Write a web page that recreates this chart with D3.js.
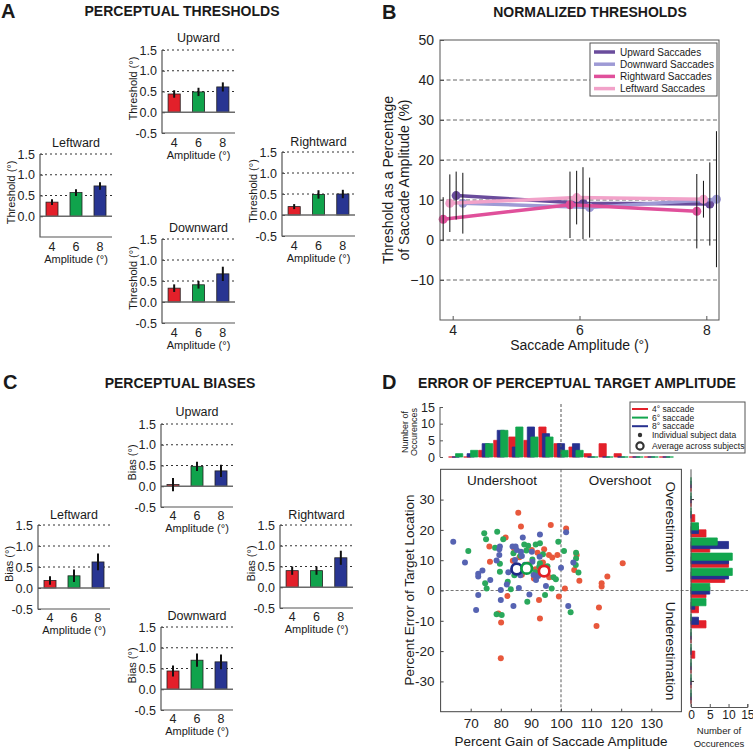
<!DOCTYPE html>
<html><head><meta charset="utf-8">
<script src="https://cdn.jsdelivr.net/npm/d3@7"></script>
<style>
body{margin:0;background:#fff;}
svg{font-family:"Liberation Sans", Arial, sans-serif;}
</style></head><body>
<svg id="c" width="753" height="749"></svg>
<script>
// ---------------- DATA ----------------
const amplitudes = ["4", "6", "8"];
const barTicks = [-0.5, 0, 0.5, 1.0, 1.5];
// Panel A: perceptual thresholds (deg)
const thrUpward = [0.44, 0.49, 0.61];
const thrUpwardErr = [0.09, 0.10, 0.11];
const thrLeftward = [0.34, 0.57, 0.73];
const thrLeftwardErr = [0.07, 0.08, 0.09];
const thrRightward = [0.20, 0.49, 0.50];
const thrRightwardErr = [0.06, 0.10, 0.10];
const thrDownward = [0.33, 0.41, 0.67];
const thrDownwardErr = [0.09, 0.09, 0.17];
// Panel C: perceptual biases (deg)
const biasUpward = [0.04, 0.48, 0.37];
const biasUpwardErr = [0.16, 0.11, 0.15];
const biasLeftward = [0.18, 0.29, 0.62];
const biasLeftwardErr = [0.10, 0.15, 0.20];
const biasRightward = [0.40, 0.40, 0.71];
const biasRightwardErr = [0.10, 0.10, 0.17];
const biasDownward = [0.44, 0.70, 0.66];
const biasDownwardErr = [0.13, 0.16, 0.18];
// Panel B: normalized thresholds (%)
const normAmplitudes = [4, 6, 8];
const normNames = ["Upward Saccades", "Downward Saccades", "Rightward Saccades", "Leftward Saccades"];
const normUpward = [11.1, 9.2, 9.0];
const normUpwardErr = [6.0, 9.0, 10.4];
const normDownward = [9.2, 8.1, 10.2];
const normDownwardErr = [7.6, 7.5, 17.0];
const normRightward = [5.2, 8.8, 7.2];
const normRightwardErr = [5.5, 8.3, 9.3];
const normLeftward = [9.2, 10.6, 10.2];
const normLeftwardErr = [7.2, 6.7, 4.6];
const normTicks = [-10, 0, 10, 20, 30, 40, 50];
// Panel D
const sacLabels = ["4° saccade", "6° saccade", "8° saccade"];
const gainBins = [65, 70, 75, 80, 85, 90, 95, 100, 105, 110, 115, 120, 125, 130, 135];
const gainCount4 = [0, 0, 2, 5, 6, 5, 9, 4, 3, 1, 4, 1, 0, 0, 0];
const gainCount6 = [1, 2, 4, 8, 9, 6, 6, 2, 2, 0, 0, 0, 0, 0, 0];
const gainCount8 = [0, 1, 4, 8, 3, 9, 7, 4, 4, 0, 0, 0, 0, 0, 0];
const errBins = [35, 30, 25, 20, 15, 10, 5, 0, -5, -10, -15, -20, -25, -30, -35];
const errCount4 = [0, 0, 1, 4, 5, 10, 9, 4, 2, 4, 0, 1, 0, 0, 0];
const errCount6 = [0, 0, 0, 2, 7, 11, 11, 5, 4, 0, 0, 0, 0, 0, 0];
const errCount8 = [0, 0, 0, 2, 10, 10, 10, 5, 1, 2, 0, 0, 0, 0, 0];
const gain4 = [85.8, 86.7, 96.6, 101.7, 81.6, 76.2, 84.4, 90.3, 94.4, 92.2, 96.0, 98.8, 97.1, 105.2, 76.4, 120.5, 91.5, 104.4, 115.4, 96.1, 106.1, 113.5, 113.5, 101.3, 99.3, 82.2, 92.7, 112.6, 93.0, 80.1, 111.8, 80.0, 79.2, 84.0, 86.2, 87.0, 89.2, 91.0, 94.0, 95.3];
const err4 = [25.7, 21.1, 21.6, 20.5, 17.5, 14.5, 13.9, 13.4, 13.6, 12.5, 11.7, 11.7, 10.9, 11.7, 9.5, 9.0, 7.0, 6.8, 4.6, 4.4, 3.2, 2.4, 1.3, 0.7, -2.0, -1.8, -3.1, -5.6, -9.2, -10.6, -11.7, -22.4, -7.6, 9.8, 11.0, 5.2, 8.6, 4.0, 9.2, 5.8];
const gain6 = [74.5, 78.8, 75.1, 80.8, 69.2, 78.1, 84.2, 87.8, 89.1, 91.6, 93.0, 99.1, 101.0, 105.0, 105.0, 79.7, 79.7, 82.3, 74.8, 75.3, 83.3, 92.8, 93.0, 97.5, 98.3, 96.9, 105.8, 104.9, 94.7, 88.8, 78.6, 80.3, 103.2, 86.5, 88.5, 90.5, 91.5, 95.5, 94.0, 84.5];
const err6 = [18.9, 19.4, 16.9, 16.9, 13.0, 14.1, 12.3, 15.2, 14.8, 15.2, 15.6, 16.1, 13.0, 12.5, 10.6, 8.8, 6.2, 2.9, 2.4, 0.7, 0.4, 7.9, 9.0, 4.4, 3.7, 0.7, 5.9, 8.4, -1.5, -3.7, -7.8, -8.1, -7.2, 11.5, 13.2, 10.2, 6.0, 8.0, 12.0, 5.0];
const gain8 = [64.2, 68.1, 72.5, 72.5, 73.9, 78.6, 79.5, 79.5, 79.7, 83.9, 84.9, 87.3, 93.0, 101.7, 86.7, 87.0, 84.7, 92.4, 91.7, 100.0, 104.1, 72.5, 80.0, 80.0, 89.5, 84.2, 71.8, 102.4, 90.3, 92.9, 90.9, 85.3, 82.5, 86.5, 88.0, 90.5, 82.0, 76.5, 86.0, 95.0];
const err8 = [16.1, 9.2, 5.5, 4.6, 6.6, 9.9, 13.6, 11.7, 14.5, 14.5, 14.5, 17.5, 18.5, 19.2, 12.8, 11.4, 10.1, 4.8, 3.5, 7.5, 9.2, -1.5, 0.2, -3.1, -1.3, -5.1, -6.4, -5.1, 12.8, 11.1, 5.1, 13.4, 6.0, 5.0, 8.5, 9.5, 2.0, 3.5, 0.8, 1.5];
const avgGain = [94.4, 88.6, 85.3];
const avgErr = [6.4, 7.3, 7.1];
const gainTicks = [70, 80, 90, 100, 110, 120, 130];
const errTicks = [-30, -20, -10, 0, 10, 20, 30];
const histTicks = [0, 5, 10, 15];

// ---------------- STYLE ----------------
const FONT = "'Liberation Sans', Arial, sans-serif";
const barColors = ["#e3202a", "#10a34c", "#283592"];
const histColors = ["#e3202a", "#12a64e", "#26308f"];
const dotColors = ["#e8583c", "#2aa85c", "#5663b2"];
const ringColors = ["#e31e24", "#0e9e48", "#1f2a88"];
const normColors = ["#6a4c9c", "#9e9ad5", "#e0509b", "#f2a2c9"];

const svg = d3.select("#c");

function txt(x, y, s, o = {}) {
  const t = svg.append("text").attr("x", x).attr("y", y).text(s)
    .attr("font-family", FONT).attr("font-size", o.size || 12)
    .attr("fill", o.fill || "#1a1a1a")
    .attr("text-anchor", o.anchor || "middle");
  if (o.bold) t.attr("font-weight", "bold");
  if (o.rot) t.attr("transform", `rotate(${o.rot},${x},${y})`);
  if (o.dy) t.attr("dy", o.dy);
  return t;
}

// ---------------- small bar panels (A, C) ----------------
function barPanel(p) {
  const x = d3.scaleBand().domain(amplitudes).range([p.x0, p.x1]).paddingInner(0.5).paddingOuter(0.25);
  const y = d3.scaleLinear().domain([-0.5, 1.5]).range([p.yBot, p.yTop]);
  const g = svg.append("g");
  g.selectAll(".grid").data([0.5, 1.0, 1.5]).join("line")
    .attr("x1", p.x0).attr("x2", p.x1).attr("y1", d => y(d)).attr("y2", d => y(d))
    .attr("stroke", "#333").attr("stroke-width", 1).attr("stroke-dasharray", "2,3");
  g.selectAll(".bar").data(p.means).join("rect")
    .attr("x", (d, i) => x(amplitudes[i])).attr("width", x.bandwidth())
    .attr("y", d => y(Math.max(d, 0))).attr("height", d => Math.abs(y(d) - y(0)))
    .attr("fill", (d, i) => barColors[i]).attr("stroke", "#222").attr("stroke-width", 0.8);
  g.append("line").attr("x1", p.x0).attr("x2", p.x1).attr("y1", y(0)).attr("y2", y(0))
    .attr("stroke", "#6a6a6a").attr("stroke-width", 1.4);
  g.selectAll(".eb").data(p.means).join("line")
    .attr("x1", (d, i) => x(amplitudes[i]) + x.bandwidth() / 2)
    .attr("x2", (d, i) => x(amplitudes[i]) + x.bandwidth() / 2)
    .attr("y1", (d, i) => y(d - p.errs[i])).attr("y2", (d, i) => y(d + p.errs[i]))
    .attr("stroke", "#111").attr("stroke-width", 2);
  const ticks = p.hideNeg ? barTicks.filter(t => t > -0.5) : barTicks;
  const ay = g.append("g").attr("transform", `translate(${p.x0},0)`)
    .call(d3.axisLeft(y).tickValues(ticks).tickFormat(d => d.toFixed(1)).tickSize(-3).tickPadding(5));
  ay.select(".domain").remove();
  ay.attr("font-family", FONT).attr("font-size", 12.5);
  ay.selectAll("text").attr("fill", "#222");
  ay.selectAll("line").attr("stroke", "#555");
  const ax = g.append("g").attr("transform", `translate(0,${p.yBot})`)
    .call(d3.axisBottom(x).tickSize(0).tickPadding(p.tickPad));
  ax.select(".domain").remove();
  ax.attr("font-family", FONT).attr("font-size", 12.5);
  ax.selectAll("text").attr("fill", "#222");
  g.append("path").attr("d", `M${p.x0},${p.yTop}V${p.yBot}H${p.x1}`)
    .attr("fill", "none").attr("stroke", "#555").attr("stroke-width", 1.2);
  const cx = (p.x0 + p.x1) / 2;
  txt(cx, p.titleY, p.title, { size: 12.5 });
  txt(cx, p.yBot + p.labOff, "Amplitude (°)", { size: 11 });
  const ly = (p.yTop + p.yBot) / 2 - 3, lx = p.x0 - 25;
  txt(lx, ly, p.ylabel, { size: 11, rot: -90 });
}

// Panel A
txt(1, 18, "A", { size: 20, bold: true, anchor: "start" });
txt(182, 16, "PERCEPTUAL THRESHOLDS", { size: 14, bold: true });
barPanel({ x0: 162, x1: 235, yTop: 50, yBot: 133, title: "Upward", titleY: 42, ylabel: "Threshold (°)", means: thrUpward, errs: thrUpwardErr, tickPad: 5, labOff: 26 });
barPanel({ x0: 40, x1: 112, yTop: 154, yBot: 237, title: "Leftward", titleY: 147, ylabel: "Threshold (°)", means: thrLeftward, errs: thrLeftwardErr, tickPad: 5, labOff: 26, hideNeg: true });
barPanel({ x0: 282, x1: 355, yTop: 152, yBot: 236, title: "Rightward", titleY: 146, ylabel: "Threshold (°)", means: thrRightward, errs: thrRightwardErr, tickPad: 5, labOff: 26 });
barPanel({ x0: 162, x1: 235, yTop: 239, yBot: 323, title: "Downward", titleY: 232, ylabel: "Threshold (°)", means: thrDownward, errs: thrDownwardErr, tickPad: 5, labOff: 26 });

// Panel C
txt(3, 389, "C", { size: 20, bold: true, anchor: "start" });
txt(180, 388, "PERCEPTUAL BIASES", { size: 14, bold: true });
barPanel({ x0: 161, x1: 233, yTop: 424, yBot: 507, title: "Upward", titleY: 416, ylabel: "Bias (°)", means: biasUpward, errs: biasUpwardErr, tickPad: 4, labOff: 25 });
barPanel({ x0: 38, x1: 110, yTop: 525, yBot: 609, title: "Leftward", titleY: 519, ylabel: "Bias (°)", means: biasLeftward, errs: biasLeftwardErr, tickPad: 4, labOff: 25 });
barPanel({ x0: 280, x1: 353, yTop: 525, yBot: 608, title: "Rightward", titleY: 519, ylabel: "Bias (°)", means: biasRightward, errs: biasRightwardErr, tickPad: 4, labOff: 25 });
barPanel({ x0: 161, x1: 233, yTop: 627, yBot: 710, title: "Downward", titleY: 620, ylabel: "Bias (°)", means: biasDownward, errs: biasDownwardErr, tickPad: 4, labOff: 25 });

// ---------------- Panel B ----------------
(function () {
  txt(382, 19, "B", { size: 20, bold: true, anchor: "start" });
  txt(590, 17, "NORMALIZED THRESHOLDS", { size: 14, bold: true });
  const x = d3.scaleLinear().domain([3.8, 8.2]).range([440, 719]);
  const y = d3.scaleLinear().domain([-20, 50]).range([320, 40]);
  const g = svg.append("g");
  g.selectAll(".grid").data(normTicks.filter(t => t < 50)).join("line")
    .attr("x1", 440).attr("x2", 719).attr("y1", d => y(d)).attr("y2", d => y(d))
    .attr("stroke", "#555").attr("stroke-width", 0.9).attr("stroke-dasharray", "4,2.5");
  const series = [
    { m: normUpward, e: normUpwardErr, off: 0.055 },
    { m: normDownward, e: normDownwardErr, off: 0.16 },
    { m: normRightward, e: normRightwardErr, off: -0.15 },
    { m: normLeftward, e: normLeftwardErr, off: -0.045 }
  ];
  const line = d3.line();
  series.forEach((s, k) => {
    const pts = normAmplitudes.map((a, i) => [x(a + s.off), y(s.m[i])]);
    g.append("path").attr("d", line(pts)).attr("fill", "none")
      .attr("stroke", normColors[k]).attr("stroke-width", 3.5);
    g.selectAll(null).data(pts).join("circle").attr("cx", d => d[0]).attr("cy", d => d[1])
      .attr("r", 4.5).attr("fill", normColors[k]);
  });
  series.forEach((s) => {
    g.selectAll(null).data(normAmplitudes).join("line")
      .attr("x1", a => x(a + s.off)).attr("x2", a => x(a + s.off))
      .attr("y1", (a, i) => y(s.m[i] - s.e[i])).attr("y2", (a, i) => y(s.m[i] + s.e[i]))
      .attr("stroke", "#111").attr("stroke-width", 1);
  });
  g.append("rect").attr("x", 440).attr("y", 40).attr("width", 279).attr("height", 280)
    .attr("fill", "none").attr("stroke", "#555").attr("stroke-width", 1);
  const ay = g.append("g").attr("transform", "translate(440,0)")
    .call(d3.axisLeft(y).tickValues(normTicks).tickSize(-4).tickPadding(6));
  ay.select(".domain").remove();
  ay.attr("font-family", FONT).attr("font-size", 14);
  ay.selectAll("text").attr("fill", "#222");
  ay.selectAll("line").attr("stroke", "#555");
  const ax = g.append("g").attr("transform", "translate(0,320)")
    .call(d3.axisBottom(x).tickValues(normAmplitudes).tickFormat(d3.format("d")).tickSize(-4).tickPadding(5));
  ax.select(".domain").remove();
  ax.attr("font-family", FONT).attr("font-size", 14);
  ax.selectAll("text").attr("fill", "#222");
  ax.selectAll("line").attr("stroke", "#555");
  txt(579.5, 350, "Saccade Amplitude (°)", { size: 14 });
  txt(393, 180, "Threshold as a Percentage", { size: 14, rot: -90 });
  txt(409, 180, "of Saccade Amplitude (%)", { size: 14, rot: -90 });
  // legend
  g.append("rect").attr("x", 590).attr("y", 43).attr("width", 127).attr("height", 53)
    .attr("fill", "#fff").attr("stroke", "#555").attr("stroke-width", 1);
  normNames.forEach((n, k) => {
    const yy = 52 + k * 12.2;
    g.append("line").attr("x1", 594).attr("x2", 615).attr("y1", yy).attr("y2", yy)
      .attr("stroke", normColors[k]).attr("stroke-width", 3.5);
    txt(620, yy, n, { size: 10, anchor: "start", dy: "0.35em" });
  });
})();

// ---------------- Panel D ----------------
(function () {
  txt(382, 389, "D", { size: 20, bold: true, anchor: "start" });
  txt(577, 388, "ERROR OF PERCEPTUAL TARGET AMPLITUDE", { size: 14, bold: true });
  const sx = d3.scaleLinear().domain([60, 140]).range([440.6, 681.4]);
  const sy = d3.scaleLinear().domain([-40, 40]).range([711.7, 469.3]);
  const hy = d3.scaleLinear().domain([0, 15]).range([457, 407]);
  const rx = d3.scaleLinear().domain([0, 15]).range([691, 747.3]);
  const g = svg.append("g");

  // top histogram
  const tops = [gainCount4, gainCount8, gainCount6];
  const topCols = [histColors[0], histColors[2], histColors[1]];
  const offs = [-3.5, 0, 3.5];
  tops.forEach((cnt, k) => {
    g.selectAll(null).data(gainBins).join("path")
      .attr("d", (b, i) => {
        const cx = sx(b) + offs[k], w = 3.6;
        const y0 = hy(0), y1 = hy(cnt[i]);
        return `M${cx - w},${y0}V${y1}H${cx + w}V${y0}Z`;
      })
      .attr("fill", topCols[k]).attr("stroke", topCols[k]).attr("stroke-width", 0.8);
  });
  g.append("line").attr("x1", sx(100)).attr("x2", sx(100)).attr("y1", 404).attr("y2", 457)
    .attr("stroke", "#555").attr("stroke-width", 1).attr("stroke-dasharray", "3,2");
  g.append("line").attr("x1", 440).attr("x2", 440).attr("y1", 407).attr("y2", 457)
    .attr("stroke", "#555").attr("stroke-width", 1);
  const hay = g.append("g").attr("transform", "translate(440,0)")
    .call(d3.axisLeft(hy).tickValues(histTicks).tickSize(-3).tickPadding(5));
  hay.select(".domain").remove();
  hay.attr("font-family", FONT).attr("font-size", 12.5);
  hay.selectAll("text").attr("fill", "#222");
  hay.selectAll("line").attr("stroke", "#555");
  txt(408, 432, "Number of", { size: 9, rot: -90 });
  txt(417, 432, "Occurences", { size: 9, rot: -90 });

  // legend
  g.append("rect").attr("x", 630).attr("y", 402).attr("width", 115).attr("height", 51)
    .attr("fill", "#fff").attr("stroke", "#555").attr("stroke-width", 1);
  sacLabels.forEach((s, k) => {
    const yy = 409 + k * 8.6;
    g.append("line").attr("x1", 632).attr("x2", 648).attr("y1", yy).attr("y2", yy)
      .attr("stroke", histColors[k]).attr("stroke-width", 2);
    txt(652, yy, s, { size: 8.5, anchor: "start", dy: "0.35em" });
  });
  g.append("circle").attr("cx", 640).attr("cy", 435).attr("r", 2.2).attr("fill", "#333");
  txt(652, 435, "Individual subject data", { size: 8.5, anchor: "start", dy: "0.35em" });
  g.append("circle").attr("cx", 640).attr("cy", 446).attr("r", 3.6).attr("fill", "#fff")
    .attr("stroke", "#333").attr("stroke-width", 2.2);
  txt(652, 446, "Average across subjects", { size: 8.5, anchor: "start", dy: "0.35em" });

  // scatter
  g.append("line").attr("x1", sx(100)).attr("x2", sx(100)).attr("y1", 469.3).attr("y2", 711.7)
    .attr("stroke", "#777").attr("stroke-width", 1.2).attr("stroke-dasharray", "3,2");
  g.append("line").attr("x1", 440.6).attr("x2", 748).attr("y1", sy(0)).attr("y2", sy(0))
    .attr("stroke", "#777").attr("stroke-width", 1.2).attr("stroke-dasharray", "3,2");
  const sets = [[gain4, err4], [gain6, err6], [gain8, err8]];
  sets.forEach(([gx, ey], k) => {
    g.selectAll(null).data(d3.zip(gx, ey)).join("circle")
      .attr("cx", d => sx(d[0])).attr("cy", d => sy(d[1])).attr("r", 3)
      .attr("fill", dotColors[k]);
  });
  [2, 1, 0].forEach(k => {
    g.append("circle").attr("cx", sx(avgGain[k])).attr("cy", sy(avgErr[k])).attr("r", 5.3)
      .attr("fill", "#fff").attr("stroke", ringColors[k]).attr("stroke-width", 2.8);
  });
  g.append("rect").attr("x", 440.6).attr("y", 469.3).attr("width", 240.8).attr("height", 242.4)
    .attr("fill", "none").attr("stroke", "#444").attr("stroke-width", 1);
  const sax = g.append("g").attr("transform", "translate(0,711.7)")
    .call(d3.axisBottom(sx).tickValues(gainTicks).tickSize(-3).tickPadding(7));
  sax.select(".domain").remove();
  sax.attr("font-family", FONT).attr("font-size", 13.5);
  sax.selectAll("text").attr("fill", "#222");
  sax.selectAll("line").attr("stroke", "#444");
  const say = g.append("g").attr("transform", "translate(440.6,0)")
    .call(d3.axisLeft(sy).tickValues(errTicks).tickFormat(d => String(d)).tickSize(-3).tickPadding(6));
  say.select(".domain").remove();
  say.attr("font-family", FONT).attr("font-size", 13.5);
  say.selectAll("text").attr("fill", "#222");
  say.selectAll("line").attr("stroke", "#444");
  txt(561, 746, "Percent Gain of Saccade Amplitude", { size: 13.5 });
  txt(414, 590, "Percent Error of Target Location", { size: 13.5, rot: -90 });
  txt(502, 485, "Undershoot", { size: 13.5 });
  txt(620, 485, "Overshoot", { size: 13.5 });
  txt(666, 527, "Overestimation", { size: 13.5, rot: 90 });
  txt(666, 651, "Underestimation", { size: 13.5, rot: 90 });

  // right histogram
  const rights = [errCount4, errCount8, errCount6];
  const rCols = [histColors[0], histColors[2], histColors[1]];
  const roffs = [3.5, 0, -3.5];
  rights.forEach((cnt, k) => {
    g.selectAll(null).data(errBins).join("path")
      .attr("d", (b, i) => {
        const cy = sy(b) + roffs[k], h = 3.6;
        const x0 = rx(0), x1 = rx(cnt[i]);
        return `M${x0},${cy - h}H${x1}V${cy + h}H${x0}Z`;
      })
      .attr("fill", rCols[k]).attr("stroke", rCols[k]).attr("stroke-width", 0.8);
  });
  g.append("line").attr("x1", 691).attr("x2", 691).attr("y1", 469.3).attr("y2", 707)
    .attr("stroke", "#555").attr("stroke-width", 1);
  const rax = g.append("g").attr("transform", "translate(0,707)")
    .call(d3.axisBottom(rx).tickValues(histTicks).tickSize(-3).tickPadding(3));
  rax.select(".domain").attr("stroke", "#555");
  rax.attr("font-family", FONT).attr("font-size", 12);
  rax.selectAll("text").attr("fill", "#222");
  rax.selectAll("line").attr("stroke", "#555");
  g.selectAll(null).data([-30, 30]).join("line")
    .attr("x1", 691).attr("x2", 694).attr("y1", d => sy(d)).attr("y2", d => sy(d))
    .attr("stroke", "#333");
  txt(719, 734, "Number of", { size: 9.5 });
  txt(719, 747, "Occurences", { size: 9.5 });
})();
</script></body></html>
